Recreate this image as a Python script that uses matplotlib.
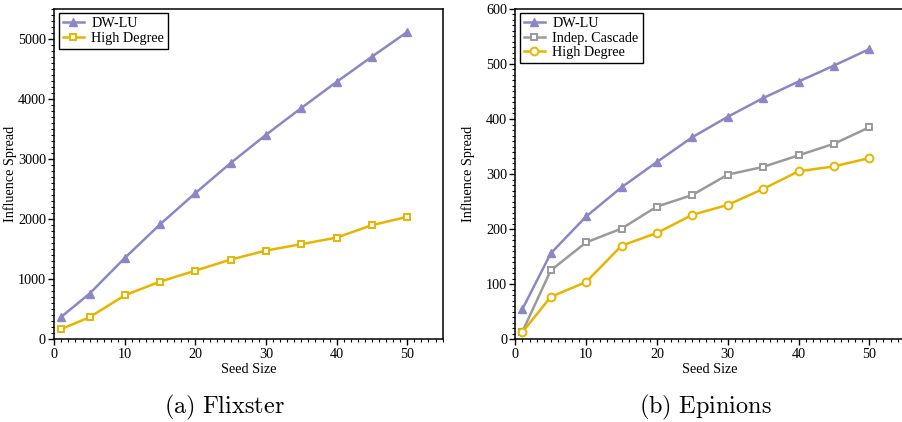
import matplotlib
matplotlib.use("Agg")
import matplotlib.pyplot as plt
from matplotlib.ticker import MultipleLocator

plt.rcParams['font.family'] = ['Liberation Serif', 'DejaVu Serif']
plt.rcParams['mathtext.fontset'] = 'cm'

seeds = [1, 5, 10, 15, 20, 25, 30, 35, 40, 45, 50]

# Flixster
flx_dwlu = [375, 760, 1355, 1915, 2435, 2935, 3405, 3850, 4285, 4705, 5115]
flx_hd = [172, 367, 733, 960, 1143, 1327, 1477, 1583, 1693, 1900, 2038]

# Epinions
epi_dwlu = [55, 156, 223, 276, 322, 367, 404, 438, 468, 497, 527]
epi_ic = [14, 125, 176, 201, 241, 262, 299, 313, 334, 355, 385]
epi_hd = [13, 77, 104, 170, 193, 226, 244, 273, 305, 314, 329]

purple = '#8b87c6'
gold = '#e8b400'
gray = '#9a9a9a'

fig = plt.figure(figsize=(9.03, 4.22), dpi=100)
ax1 = fig.add_axes([0.0601, 0.196, 0.430, 0.783])
ax2 = fig.add_axes([0.5707, 0.196, 0.4312, 0.783])

lw = 1.8
mew = 1.4

ax1.plot(seeds, flx_dwlu, color=purple, lw=lw, marker='^', ms=5.6,
         mfc=purple, mec=purple, label='DW-LU')
ax1.plot(seeds, flx_hd, color=gold, lw=lw, marker='s', ms=4.3,
         mfc='white', mec=gold, mew=mew, label='High Degree')

ax2.plot(seeds, epi_dwlu, color=purple, lw=lw, marker='^', ms=5.6,
         mfc=purple, mec=purple, label='DW-LU')
ax2.plot(seeds, epi_ic, color=gray, lw=lw, marker='s', ms=4.3,
         mfc='white', mec=gray, mew=mew, label='Indep. Cascade')
ax2.plot(seeds, epi_hd, color=gold, lw=lw, marker='o', ms=5.6,
         mfc='white', mec=gold, mew=mew, label='High Degree')

ax1.set_ylim(0, 5500)
ax1.yaxis.set_major_locator(MultipleLocator(1000))
ax1.yaxis.set_minor_locator(MultipleLocator(100))
ax2.set_ylim(0, 600)
ax2.yaxis.set_major_locator(MultipleLocator(100))
ax2.yaxis.set_minor_locator(MultipleLocator(10))

for ax, lx in ((ax1, -0.097), (ax2, -0.103)):
    ax.set_xlim(0, 55)
    ax.xaxis.set_major_locator(MultipleLocator(10))
    ax.xaxis.set_minor_locator(MultipleLocator(1))
    ax.tick_params(which='major', direction='out', length=4, width=1,
                   labelsize=10.2, top=False, right=False, pad=2)
    ax.tick_params(which='minor', direction='out', length=2.5, width=0.8,
                   top=False, right=False)
    for s in ax.spines.values():
        s.set_linewidth(1.1)
    ax.set_xlabel('Seed Size', fontsize=10.2, labelpad=2)
    ax.set_ylabel('Influence Spread', fontsize=10.2)
    ax.yaxis.set_label_coords(lx, 0.5)
    leg = ax.legend(loc='upper left', fontsize=10.2, fancybox=False,
                    edgecolor='black', framealpha=1, handlelength=1.5,
                    borderpad=0.3, labelspacing=0.1, handletextpad=0.5,
                    borderaxespad=0.3)
    leg.get_frame().set_linewidth(1.0)

fig.text(0.249, 0.02, r'$\mathrm{(a)\ Flixster}$', fontsize=17.5, ha='center')
fig.text(0.781, 0.02, r'$\mathrm{(b)\ Epinions}$', fontsize=17.5, ha='center')

fig.savefig('out.png', dpi=100)
